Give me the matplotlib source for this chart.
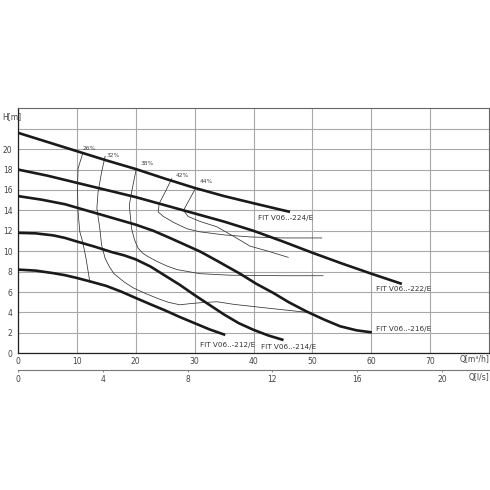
import matplotlib
matplotlib.use('Agg')
import matplotlib.pyplot as plt
import numpy as np

# pump curves, Q [m3/h] vs H [m]
q_224 = [0, 5, 10, 15, 20, 25, 30, 35, 40, 46.2]
h_224 = [21.6, 20.7, 19.8, 18.9, 18.05, 17.1, 16.2, 15.4, 14.7, 13.85]

q_222 = [0, 5, 10, 15, 20, 25, 30, 35, 40, 45, 50, 55, 60, 65.2]
h_222 = [18.0, 17.4, 16.7, 16.0, 15.3, 14.5, 13.7, 12.9, 12.0, 10.95, 9.85, 8.8, 7.8, 6.8]

q_216 = [0, 4, 8, 11, 13.4, 17, 20, 23, 25.8, 28.5, 31, 34, 36, 37.7, 40.5, 43.4, 46, 49, 52, 54.7, 57.5, 60.1]
h_216 = [15.4, 15.05, 14.6, 14.1, 13.7, 13.1, 12.6, 12.0, 11.3, 10.6, 9.95, 9.0, 8.35, 7.8, 6.8, 5.9, 5.0, 4.1, 3.3, 2.65, 2.25, 2.05]

q_214 = [0, 3, 6, 8, 10, 13, 16, 18, 20, 22.5, 25, 27.5, 30, 32.5, 35, 37.5, 40, 42.5, 45.1]
h_214 = [11.8, 11.75, 11.55, 11.3, 10.95, 10.45, 9.9, 9.6, 9.2, 8.5, 7.6, 6.7, 5.7, 4.75, 3.8, 2.95, 2.3, 1.75, 1.3]

q_212 = [0, 3, 6, 8, 10, 12.5, 15, 17.5, 20, 22.5, 25, 27.5, 30, 32.5, 35.2]
h_212 = [8.2, 8.1, 7.85, 7.65, 7.38, 7.0, 6.6, 6.05, 5.42, 4.8, 4.2, 3.55, 2.95, 2.35, 1.8]

pump_names = ['FIT V06..-224/E', 'FIT V06..-222/E', 'FIT V06..-216/E',
              'FIT V06..-214/E', 'FIT V06..-212/E']
label_pos = [(40.8, 13.3), (60.8, 6.3), (60.8, 2.4), (41.2, 0.6), (30.9, 0.85)]

# iso-efficiency lines
eta_labels = ['26%', '32%', '38%', '42%', '44%']
eta_label_pos = [(11.0, 20.1), (15.0, 19.4), (20.8, 18.6), (26.7, 17.4), (30.9, 16.85)]

q_26 = [11.0, 10.2, 10.1, 10.2, 10.5, 11.0, 11.55, 12.2]
h_26 = [19.6, 18.1, 16.1, 13.9, 11.9, 10.9, 9.3, 7.0]

q_32 = [14.8, 14.2, 13.6, 13.4, 13.9, 14.2, 14.8, 15.5, 16.3, 18.0, 19.6, 21.5, 23.6, 25.5, 27.5, 29.0, 30.9, 33.8, 36.6, 42.0, 49.3]
h_32 = [19.3, 17.75, 15.8, 14.2, 12.2, 10.6, 9.3, 8.5, 7.8, 7.0, 6.4, 5.9, 5.4, 5.0, 4.75, 4.85, 4.95, 5.05, 4.8, 4.45, 4.0]

q_38 = [20.1, 19.3, 18.9, 19.3, 19.8, 20.4, 21.2, 22.0, 23.6, 25.3, 27.0, 30.9, 36.0, 45.0, 51.8]
h_38 = [18.1, 15.8, 14.5, 12.2, 11.1, 10.3, 9.8, 9.5, 9.0, 8.55, 8.2, 7.8, 7.65, 7.6, 7.6]

q_42 = [26.1, 25.0, 24.0, 23.8, 24.7, 26.5, 28.7, 30.9, 35.0, 39.4, 45.0, 51.6]
h_42 = [17.1, 15.8, 14.7, 13.85, 13.4, 12.8, 12.2, 11.9, 11.6, 11.4, 11.3, 11.3]

q_44 = [30.2, 29.2, 28.1, 28.9, 31.0, 33.75, 36.5, 39.4, 42.5, 45.9]
h_44 = [16.2, 15.15, 14.0, 13.4, 12.9, 12.4, 11.5, 10.5, 10.0, 9.4]

x_ticks = [0, 10, 20, 30, 40, 50, 60, 70]
y_ticks = [0, 2, 4, 6, 8, 10, 12, 14, 16, 18, 20, 22]
y_tick_labels = ['0', '2', '4', '6', '8', '10', '12', '14', '16', '18', '20', '']
ls_ticks = [0, 4, 8, 12, 16, 20]

fig = plt.figure(figsize=(4.9, 4.9), dpi=100)
ax = fig.add_axes([18 / 490, 136.7 / 490, 471 / 490, 245 / 490])

pumps = [(q_224, h_224), (q_222, h_222), (q_216, h_216), (q_214, h_214), (q_212, h_212)]
for (q, h), name, (tx, ty) in zip(pumps, pump_names, label_pos):
    ax.plot(q, h, color='#1a1a1a', lw=1.9, solid_capstyle='butt', solid_joinstyle='round', zorder=4)
    ax.text(tx, ty, name, fontsize=5.2, color='#333333', va='center', ha='left')

eta_lines = [(q_26, h_26), (q_32, h_32), (q_38, h_38), (q_42, h_42), (q_44, h_44)]
for (q, h), lab, (tx, ty) in zip(eta_lines, eta_labels, eta_label_pos):
    ax.plot(q, h, color='#333333', lw=0.55, solid_joinstyle='round', zorder=3)
    ax.text(tx, ty, lab, fontsize=4.2, color='#444444', va='center', ha='left')

ax.set_xlim(0, 80)
ax.set_ylim(0, 24)
ax.set_xticks(x_ticks)
ax.set_yticks(y_ticks)
ax.set_yticklabels(y_tick_labels)
ax.grid(True, color='#a8a8a8', lw=0.8, zorder=0)
ax.set_axisbelow(True)
ax.tick_params(length=0, labelsize=5.5, labelcolor='#444444')
ax.tick_params(axis='x', pad=3)
ax.tick_params(axis='y', pad=4)
for side in ['top', 'right']:
    ax.spines[side].set_color('#666666')
    ax.spines[side].set_linewidth(0.8)
for side in ['left', 'bottom']:
    ax.spines[side].set_color('#222222')
    ax.spines[side].set_linewidth(0.9)

ax.text(-0.034, 0.964, 'H[m]', transform=ax.transAxes, fontsize=5.5, color='#444444',
        ha='left', va='center')
ax.text(1.0, -0.027, 'Q[m³/h]', transform=ax.transAxes, fontsize=5.5, color='#444444',
        ha='right', va='center')

# second flow scale in l/s
sec = ax.secondary_xaxis(-0.068, functions=(lambda x: x / 3.6, lambda x: x * 3.6))
sec.set_xticks(ls_ticks)
sec.spines['bottom'].set_color('#777777')
sec.spines['bottom'].set_linewidth(0.8)
sec.tick_params(length=1.5, width=0.6, color='#777777', labelsize=5.5, labelcolor='#444444', pad=2)
ax.text(1.0, -0.097, 'Q[l/s]', transform=ax.transAxes, fontsize=5.5, color='#444444',
        ha='right', va='center')

fig.savefig('out.png', dpi=100, facecolor='white')
